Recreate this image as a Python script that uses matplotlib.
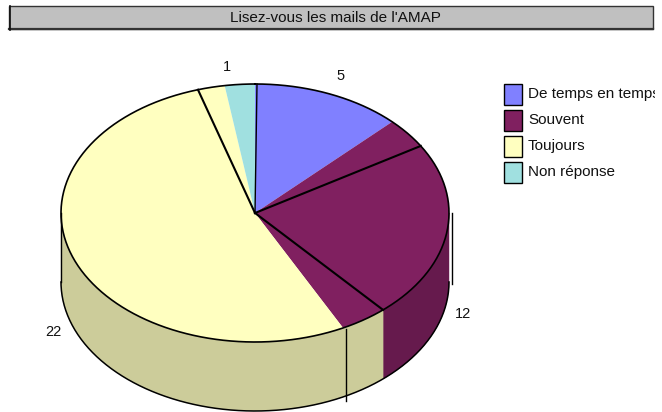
import numpy as np
import matplotlib
matplotlib.use("Agg")
import matplotlib.pyplot as plt
from matplotlib.patches import Polygon, Rectangle

plt.rcParams['font.family'] = ['Liberation Sans', 'DejaVu Sans']

title = "Lisez-vous les mails de l'AMAP"
categories = ["De temps en temps", "Souvent", "Toujours", "Non réponse"]
values = [5, 12, 22, 1]
colors = ["#8080FF", "#802060", "#FFFFC0", "#A0E0E0"]
side_purple = "#661A4D"
side_yellow = "#CCCC9A"
# stray slice outlines of the original chart, in the same units as values
outline_marks = [6.52, 15.41, 38.1]

W, H = 662, 412
CX, CY, RX, RY, DEPTH = 255, 213, 194, 129, 69

fig = plt.figure(figsize=(W / 100, H / 100), dpi=100)
ax = fig.add_axes([0, 0, 1, 1])
ax.set_xlim(0, W)
ax.set_ylim(H, 0)
ax.axis("off")

total = sum(values)


def pt(v, dy=0):
    a = 2 * np.pi * np.asarray(v, dtype=float) / total
    return CX + RX * np.sin(a), CY - RY * np.cos(a) + dy


edges = np.concatenate([[0], np.cumsum(values)])

# side wall: purple up to the second stray outline, yellow after it
wall = [(total / 4, outline_marks[1], side_purple),
        (outline_marks[1], total * 3 / 4, side_yellow)]
for lo, hi, col in wall:
    t = np.linspace(lo, hi, 160)
    x, y = pt(t)
    xb, yb = pt(t, DEPTH)
    ax.add_patch(Polygon(np.r_[np.c_[x, y], np.c_[xb, yb][::-1]], closed=True,
                         fc=col, ec=col, lw=0.3, zorder=1))
t = np.linspace(total / 4, total * 3 / 4, 240)
x, y = pt(t, DEPTH)
ax.plot(x, y, color="black", lw=1.1, zorder=3)
x0, y0 = pt(total * 3 / 4)
ax.plot([x0, x0], [y0, y0 + DEPTH], color="black", lw=1.0, zorder=3)

# top face
for i in range(len(values)):
    t = np.linspace(edges[i], edges[i + 1], 120)
    x, y = pt(t)
    ax.add_patch(Polygon(np.r_[[[CX, CY]], np.c_[x, y]], closed=True,
                         fc=colors[i], ec="none", zorder=2))
t = np.linspace(0, total, 480)
x, y = pt(t)
ax.plot(x, y, color="black", lw=1.2, zorder=4)
x0, y0 = pt(0)
ax.plot([CX, x0 + 2], [CY, y0], color="black", lw=1.0, zorder=4)

# stray outlines
for v in outline_marks:
    xm, ym = pt(v)
    ax.plot([CX, xm], [CY, ym], color="black", lw=1.5, zorder=4)
xm, ym = pt(edges[2])
ax.plot([xm + 3, xm + 3], [ym + 1, ym + DEPTH + 4], color="black", lw=1.0, zorder=4)
ax.plot([CX + RX + 2.5] * 2, [CY, CY + DEPTH + 2], color="black", lw=1.0, zorder=4)

# value labels
label_pos = [(341, 76), (463, 314), (53, 332), (227, 67)]
for v, (lx, ly) in zip(values, label_pos):
    ax.text(lx, ly, str(v), ha="center", va="center", fontsize=10.5, color="#111111", zorder=6)

# title band
ax.add_patch(Rectangle((9, 6), 644, 23, fc="#C0C0C0", ec="#333333", lw=1.0, zorder=5))
ax.plot([9, 653], [29, 29], color="#333333", lw=1.6, zorder=5)
ax.plot([9.5, 9.5], [6, 30], color="#111111", lw=1.2, zorder=5)
ax.text(335, 17.5, title, ha="center", va="center", fontsize=11, color="#111111", zorder=6)

# legend
for i, (c, name) in enumerate(zip(colors, categories)):
    y = 84 + 26 * i
    ax.add_patch(Rectangle((504, y), 18, 21, fc=c, ec="black", lw=1.0, zorder=5))
    txt = ax.text(528, y + 10, name, ha="left", va="center", fontsize=11, color="#111111", zorder=6)
    txt.set_clip_path(Rectangle((0, 0), 655, H, transform=ax.transData))
    txt.set_clip_on(True)

fig.savefig("out.png", dpi=100, facecolor="white")
